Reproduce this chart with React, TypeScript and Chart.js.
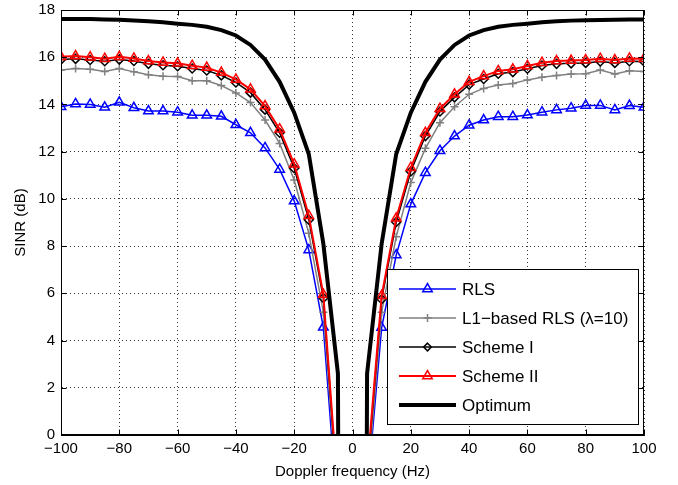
import React, { useEffect, useRef } from 'react';
import { Chart, registerables } from 'chart.js';

Chart.register(...registerables);

const freqs = [-100, -95, -90, -85, -80, -75, -70, -65, -60, -55, -50, -45, -40, -35, -30, -25, -20, -15, -10, -5, 0,
  5, 10, 15, 20, 25, 30, 35, 40, 45, 50, 55, 60, 65, 70, 75, 80, 85, 90, 95, 100];

const rls = [13.90, 14.02, 14.00, 13.88, 14.09, 13.86, 13.72, 13.72, 13.67, 13.54, 13.54, 13.50, 13.14, 12.80, 12.16, 11.25, 9.91, 7.84, 4.56, -3.6, null,
  -2.5, 4.55, 7.62, 9.78, 11.11, 12.04, 12.66, 13.12, 13.34, 13.48, 13.48, 13.55, 13.67, 13.77, 13.84, 13.96, 13.96, 13.77, 13.95, 13.88];

const l1Rls = [15.46, 15.52, 15.49, 15.40, 15.52, 15.38, 15.26, 15.19, 15.18, 15.00, 15.00, 14.80, 14.49, 14.08, 13.34, 12.35, 10.80, 8.54, 5.20, -3.0, null,
  -2.2, 5.20, 8.40, 10.69, 12.14, 13.23, 13.90, 14.43, 14.68, 14.82, 14.89, 15.04, 15.15, 15.23, 15.29, 15.30, 15.46, 15.29, 15.43, 15.40];

const schemeI = [15.90, 15.93, 15.88, 15.83, 15.90, 15.84, 15.72, 15.66, 15.62, 15.52, 15.44, 15.23, 14.93, 14.50, 13.78, 12.80, 11.30, 9.12, 5.80, -2.7, null,
  -1.7, 5.75, 9.02, 11.16, 12.66, 13.70, 14.30, 14.84, 15.08, 15.30, 15.37, 15.51, 15.65, 15.72, 15.74, 15.76, 15.82, 15.76, 15.83, 15.82];

const schemeII = [16.02, 16.05, 16.00, 15.94, 16.02, 15.95, 15.84, 15.78, 15.74, 15.64, 15.56, 15.35, 15.06, 14.64, 13.93, 12.95, 11.47, 9.29, 5.95, -2.5, null,
  -1.5, 5.90, 9.18, 11.32, 12.80, 13.82, 14.43, 14.96, 15.20, 15.42, 15.49, 15.63, 15.77, 15.84, 15.86, 15.88, 15.94, 15.88, 15.95, 15.94];

const optimum = [17.62, 17.62, 17.62, 17.60, 17.59, 17.56, 17.52, 17.48, 17.42, 17.37, 17.29, 17.15, 16.92, 16.52, 15.90, 14.96, 13.65, 11.90, 8.10, 2.60, -150,
  2.60, 8.10, 11.90, 13.65, 14.96, 15.90, 16.52, 16.92, 17.15, 17.29, 17.37, 17.42, 17.48, 17.52, 17.55, 17.57, 17.58, 17.59, 17.60, 17.60];

const seriesNames = ['RLS', 'L1\u2212based RLS (\u03bb=10)', 'Scheme I', 'Scheme II', 'Optimum'];
const xTicks = [-100, -80, -60, -40, -20, 0, 20, 40, 60, 80, 100];
const yTicks = [0, 2, 4, 6, 8, 10, 12, 14, 16, 18];
const xTitle = 'Doppler frequency (Hz)';
const yTitle = 'SINR (dB)';

const FONT = "'Liberation Sans', Arial, Helvetica, sans-serif";

function fmt(v: number | string) {
  return String(v).replace('-', '\u2212');
}

function drawMarker(ctx: CanvasRenderingContext2D, style: string, x: number, y: number, r: number) {
  ctx.beginPath();
  if (style === 'triangle') {
    for (let k = 0; k < 3; k++) {
      const a = (k * 2 * Math.PI) / 3;
      const px = x + Math.sin(a) * r;
      const py = y - Math.cos(a) * r;
      if (k === 0) ctx.moveTo(px, py); else ctx.lineTo(px, py);
    }
    ctx.closePath();
  } else if (style === 'rectRot') {
    const d = r * 0.85;
    ctx.moveTo(x, y - d);
    ctx.lineTo(x + d, y);
    ctx.lineTo(x, y + d);
    ctx.lineTo(x - d, y);
    ctx.closePath();
  } else if (style === 'cross') {
    ctx.moveTo(x - r, y);
    ctx.lineTo(x + r, y);
    ctx.moveTo(x, y - r);
    ctx.lineTo(x, y + r);
  }
  ctx.stroke();
}

const framePlugin = {
  id: 'frameAndLegend',
  afterDraw(chart: any) {
    const { ctx, chartArea: a, scales } = chart;
    ctx.save();
    ctx.setLineDash([]);
    ctx.strokeStyle = '#000';
    ctx.lineWidth = 1;
    const L = Math.round(a.left) + 0.5;
    const R = Math.round(a.right) - 0.5;
    const T = Math.round(a.top) + 0.5;
    const B = Math.round(a.bottom) - 0.5;
    ctx.strokeRect(L, T, R - L, B - T);
    const tl = 5;
    ctx.beginPath();
    xTicks.forEach((v) => {
      const px = Math.round(scales.x.getPixelForValue(v)) + 0.5;
      ctx.moveTo(px, B); ctx.lineTo(px, B - tl);
      ctx.moveTo(px, T); ctx.lineTo(px, T + tl);
    });
    yTicks.forEach((v) => {
      const py = Math.round(scales.y.getPixelForValue(v)) + 0.5;
      ctx.moveTo(L, py); ctx.lineTo(L + tl, py);
      ctx.moveTo(R, py); ctx.lineTo(R - tl, py);
    });
    ctx.stroke();

    // legend
    const bx = 387.5, by = 269.5, bw = 251, bh = 155;
    ctx.fillStyle = '#fff';
    ctx.fillRect(bx, by, bw, bh);
    ctx.strokeStyle = '#000';
    ctx.lineWidth = 1;
    ctx.strokeRect(bx, by, bw, bh);
    const rowY0 = 288.5, rowGap = 29.2;
    const lx0 = 399, lx1 = 456, tx = 462;
    ctx.font = `17px ${FONT}`;
    ctx.textBaseline = 'middle';
    ctx.textAlign = 'left';
    chart.data.datasets.forEach((ds: any, i: number) => {
      const y = Math.round(rowY0 + i * rowGap);
      ctx.strokeStyle = ds.borderColor;
      ctx.lineWidth = ds.borderWidth;
      ctx.beginPath();
      ctx.moveTo(lx0, y);
      ctx.lineTo(lx1, y);
      ctx.stroke();
      if (ds.pointRadius > 0) {
        ctx.lineWidth = ds.pointBorderWidth;
        ctx.strokeStyle = ds.pointBorderColor;
        drawMarker(ctx, ds.pointStyle, (lx0 + lx1) / 2, y, ds.pointRadius);
      }
      ctx.fillStyle = '#000';
      ctx.fillText(ds.label, tx, y + 1);
    });
    ctx.restore();
  },
};

function toPoints(arr: (number | null)[]) {
  return freqs.map((f, i) => ({ x: f, y: arr[i] }));
}

export default function App() {
  const ref = useRef<HTMLCanvasElement | null>(null);
  useEffect(() => {
    if (!ref.current) return;
    Chart.defaults.font.family = FONT;
    const gridColor = 'rgba(0,0,0,0.8)';
    const chart = new Chart(ref.current, {
      type: 'line',
      data: {
        datasets: [
          {
            label: seriesNames[0], data: toPoints(rls), borderColor: '#0000ff', borderWidth: 1.5,
            pointStyle: 'triangle', pointRadius: 5.5, pointBorderWidth: 1.5, pointBorderColor: '#0000ff',
            pointBackgroundColor: 'rgba(0,0,0,0)', order: 4, tension: 0,
          },
          {
            label: seriesNames[1], data: toPoints(l1Rls), borderColor: '#808080', borderWidth: 1.5,
            pointStyle: 'cross', pointRadius: 4, pointBorderWidth: 1.5, pointBorderColor: '#808080',
            pointBackgroundColor: 'rgba(0,0,0,0)', order: 3, tension: 0,
          },
          {
            label: seriesNames[2], data: toPoints(schemeI), borderColor: '#000000', borderWidth: 1.5,
            pointStyle: 'rectRot', pointRadius: 4.5, pointBorderWidth: 1.5, pointBorderColor: '#000000',
            pointBackgroundColor: 'rgba(0,0,0,0)', order: 2, tension: 0,
          },
          {
            label: seriesNames[3], data: toPoints(schemeII), borderColor: '#ff0000', borderWidth: 2,
            pointStyle: 'triangle', pointRadius: 5.5, pointBorderWidth: 1.5, pointBorderColor: '#ff0000',
            pointBackgroundColor: 'rgba(0,0,0,0)', order: 1, tension: 0,
          },
          {
            label: seriesNames[4], data: toPoints(optimum), borderColor: '#000000', borderWidth: 4,
            pointRadius: 0, pointBorderWidth: 0, order: 0, tension: 0,
          },
        ] as any,
      },
      options: {
        animation: false,
        responsive: false,
        devicePixelRatio: 1,
        events: [],
        spanGaps: false,
        layout: { padding: { top: 10, right: 34, bottom: 0, left: 0 } },
        plugins: { legend: { display: false }, tooltip: { enabled: false } },
        scales: {
          x: {
            type: 'linear', min: -100, max: 100,
            afterBuildTicks: (s: any) => { s.ticks = xTicks.map((v) => ({ value: v })); },
            afterFit: (s: any) => { s.height = 50; s.paddingLeft = 0; s.paddingRight = 0; },
            ticks: { color: '#000', font: { size: 15 }, padding: 5, maxRotation: 0, autoSkip: false, callback: (v: any) => fmt(v) },
            grid: { color: gridColor, lineWidth: 1, drawTicks: false },
            border: { display: true, color: '#000', width: 1, dash: [1, 3] },
            title: { display: true, text: xTitle, color: '#000', font: { size: 15 }, padding: { top: 0, bottom: 4 } },
          },
          y: {
            type: 'linear', min: 0, max: 18,
            afterBuildTicks: (s: any) => { s.ticks = yTicks.map((v) => ({ value: v })); },
            afterFit: (s: any) => { s.width = 61; s.paddingTop = 0; s.paddingBottom = 0; },
            ticks: { color: '#000', font: { size: 15 }, padding: 6, callback: (v: any) => fmt(v) },
            grid: { color: gridColor, lineWidth: 1, drawTicks: false },
            border: { display: true, color: '#000', width: 1, dash: [1, 3] },
            title: { display: true, text: yTitle, color: '#000', font: { size: 15 }, padding: { top: 12, bottom: 0 } },
          },
        },
      } as any,
      plugins: [framePlugin],
    });
    return () => chart.destroy();
  }, []);
  return (
    <div style={{ position: 'absolute', left: 0, top: 0, width: 678, height: 485, background: '#fff' }}>
      <canvas ref={ref} width={678} height={485} style={{ display: 'block', width: 678, height: 485 }} />
    </div>
  );
}
